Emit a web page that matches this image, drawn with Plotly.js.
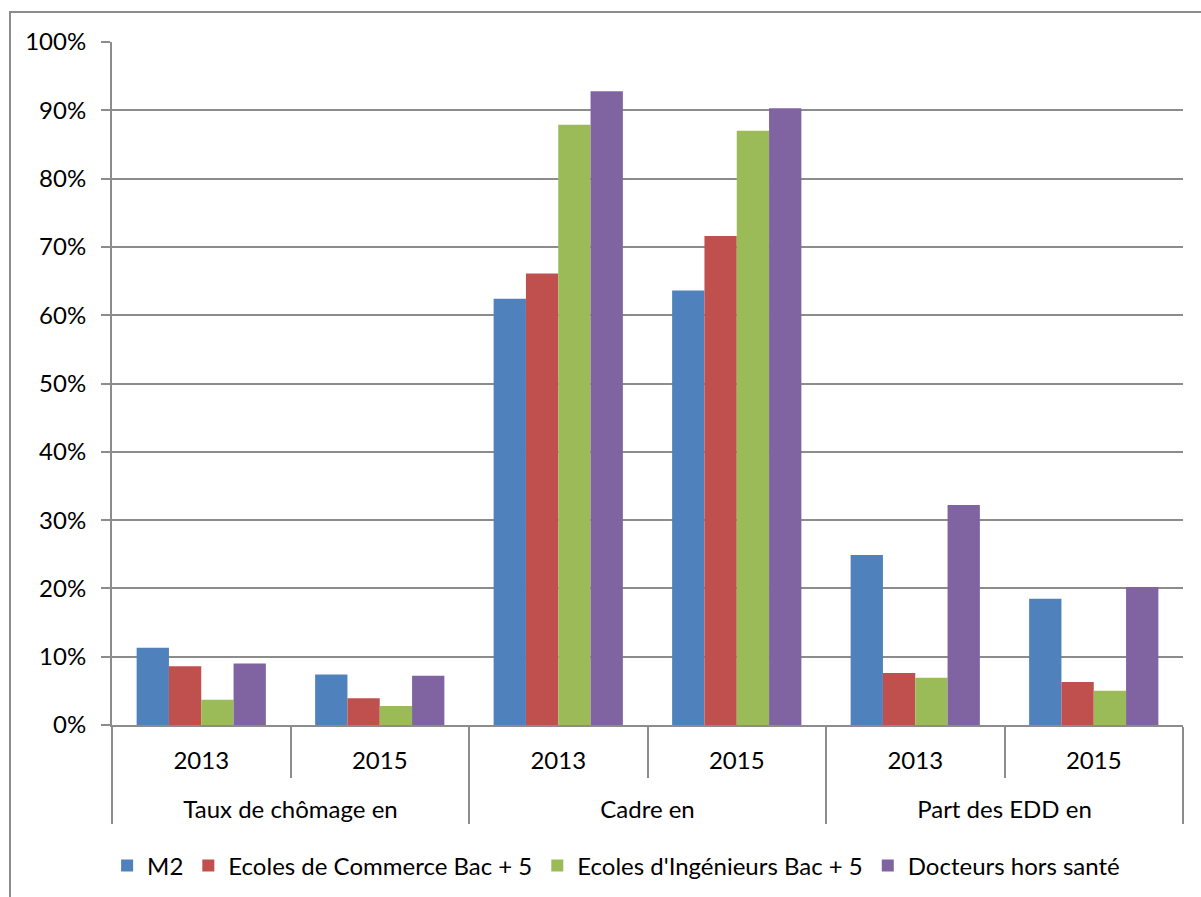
<!DOCTYPE html>
<html>
<head>
<meta charset="utf-8">
<script src="https://cdn.plot.ly/plotly-3.0.1.min.js"></script>
<style>
  html, body { margin: 0; padding: 0; background: #fff; }
  #wrap { position: relative; width: 1201px; height: 897px; overflow: hidden; }
  #frame { position: absolute; left: 9px; top: 11px; width: 1200px; height: 900px; border: 2px solid #8c8c8c; box-sizing: border-box; pointer-events: none; }
  #chart { position: absolute; left: 0; top: 0; width: 1201px; height: 897px; }
</style>
</head>
<body>
<div id="wrap">
  <div id="chart"></div>
  <div id="frame"></div>
</div>
<script>
const groups = ["Taux de chômage en", "Taux de chômage en", "Cadre en", "Cadre en", "Part des EDD en", "Part des EDD en"];
const years = ["2013", "2015", "2013", "2015", "2013", "2015"];
const seriesNames = ["M2", "Ecoles de Commerce Bac + 5", "Ecoles d'Ingénieurs Bac + 5", "Docteurs hors santé"];
const m2 = [0.113, 0.074, 0.624, 0.636, 0.249, 0.185];
const commerce = [0.086, 0.039, 0.661, 0.716, 0.076, 0.063];
const ingenieurs = [0.037, 0.028, 0.879, 0.870, 0.069, 0.050];
const docteurs = [0.090, 0.072, 0.928, 0.903, 0.322, 0.202];
const colors = ["#4F81BD", "#C0504D", "#9BBB59", "#8064A2"];

const values = [m2, commerce, ingenieurs, docteurs];
const FONT = "Lato, 'Liberation Sans', sans-serif";
const GRID = "#8c8c8c";
const FS = 24;

// the leading line break pushes the outer group labels one line lower, as in the original
const outer = groups.map(g => "<br>" + g);

const data = values.map((v, i) => ({
  type: "bar",
  name: seriesNames[i],
  x: [outer, years],
  y: v,
  marker: { color: colors[i], line: { width: 0 } },
  hoverinfo: "name+y"
}));

const layout = {
  width: 1201,
  height: 897,
  margin: { l: 112, r: 18, t: 42, b: 172, autoexpand: false },
  paper_bgcolor: "#ffffff",
  plot_bgcolor: "#ffffff",
  font: { family: FONT, size: FS, color: "#000000" },
  barmode: "group",
  bargap: 0.276,
  bargroupgap: 0,
  showlegend: true,
  legend: {
    orientation: "h",
    xref: "container", x: 0.513, xanchor: "center",
    yref: "container", y: 0.0346, yanchor: "middle",
    font: { family: FONT, size: FS, color: "#000" },
    traceorder: "normal"
  },
  xaxis: {
    type: "multicategory",
    automargin: false,
    showline: true, linecolor: GRID, linewidth: 2,
    ticks: "outside", tickson: "boundaries", ticklen: 51, tickcolor: GRID, tickwidth: 2,
    showdividers: true, dividercolor: GRID, dividerwidth: 2,
    showgrid: false,
    ticklabelstandoff: 13,
    tickfont: { family: FONT, size: FS, color: "#000" }
  },
  yaxis: {
    automargin: false,
    range: [0, 1],
    dtick: 0.1,
    tickformat: ".0%",
    showline: true, linecolor: GRID, linewidth: 2,
    ticks: "outside", ticklen: 9, tickcolor: GRID, tickwidth: 2,
    showgrid: true, gridcolor: GRID, gridwidth: 2,
    zeroline: false,
    ticklabelstandoff: 10,
    tickfont: { family: FONT, size: FS, color: "#000" }
  }
};

Plotly.newPlot("chart", data, layout, { staticPlot: true, displayModeBar: false });
</script>
</body>
</html>
